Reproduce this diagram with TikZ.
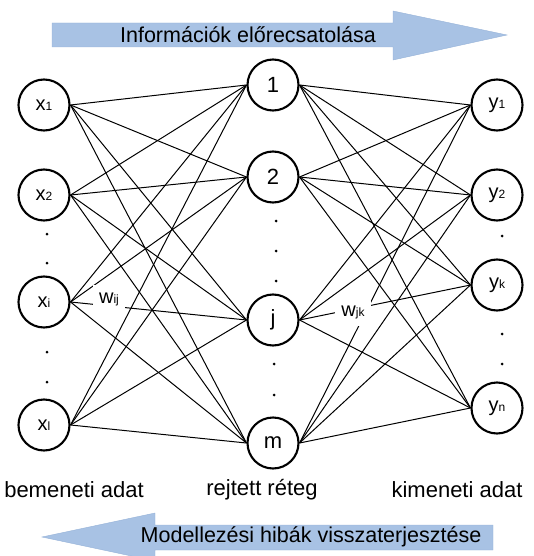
\documentclass[tikz,border=0pt]{standalone}
\usepackage{fontspec}
\setmainfont{Liberation Sans}
\definecolor{arrowblue}{RGB}{168,194,228}
\definecolor{arrowedge}{RGB}{150,178,216}
\newcommand\neurlab[2]{{\fontsize{20}{20}\selectfont #1}{\fontsize{12}{12}\selectfont #2}}
\begin{document}
\begin{tikzpicture}[x=1pt,y=-1pt,
  neuron/.style={circle, draw, line width=2.1pt, minimum size=51pt, inner sep=0pt, fill=white},
  conn/.style={line width=1pt},
  dotn/.style={circle, fill=black, inner sep=0pt, minimum size=3pt},
  wlab/.style={fill=white, inner xsep=6pt, inner ysep=7pt},
  caption/.style={font=\fontsize{21.5}{24}\selectfont, inner sep=0pt},
  layer/.style={font=\fontsize{22}{24}\selectfont, inner sep=0pt},
  bigarrow/.style={fill=arrowblue, draw=arrowedge, line width=0.4pt}]
\useasboundingbox (0,0) rectangle (533,556);
% arrows
\filldraw[bigarrow] (52,23) -- (393,23) -- (393,11) -- (507,35) -- (393,60) -- (393,47) -- (52,47) -- cycle;
\node[caption] (fwd) at (248,35) {Információk előrecsatolása};
\filldraw[bigarrow] (493,525) -- (155,525) -- (155,513) -- (42,537) -- (155,561) -- (155,550) -- (493,550) -- cycle;
\node[caption] (bwd) at (311,537) {Modellezési hibák visszaterjesztése};
% neurons
\node[neuron] (x1) at (44,105) {\neurlab{x}{1}};
\node[neuron] (x2) at (44,195) {\neurlab{x}{2}};
\node[neuron] (xi) at (44,302) {\neurlab{x}{i}};
\node[neuron] (xl) at (44,425) {\neurlab{x}{l}};
\node[neuron, font=\fontsize{22}{22}\selectfont] (h1) at (273,85) {1};
\node[neuron, font=\fontsize{22}{22}\selectfont] (h2) at (273,177) {2};
\node[neuron, font=\fontsize{22}{22}\selectfont] (hj) at (273,320) {j};
\node[neuron, font=\fontsize{22}{22}\selectfont] (hm) at (273,443) {m};
\node[neuron] (y1) at (497,105) {\neurlab{y}{1}};
\node[neuron] (y2) at (497,195) {\neurlab{y}{2}};
\node[neuron] (yk) at (497,285) {\neurlab{y}{k}};
\node[neuron] (yn) at (497,408) {\neurlab{y}{n}};
% connections
\foreach \a in {x1,x2,xi,xl}
  \foreach \b in {h1,h2,hj,hm}
    \draw[conn] (\a.east) -- (\b.west);
\foreach \a in {h1,h2,hj,hm}
  \foreach \b in {y1,y2,yk,yn}
    \draw[conn] (\a.east) -- (\b.west);
% weight labels
\node[wlab] (wij) at (109,299) {\neurlab{w}{ij}};
\node[wlab] (wjk) at (353,312) {\neurlab{w}{jk}};
% dots
\node[dotn] (dl1) at (47,234) {};
\node[dotn] (dl2) at (47,263) {};
\node[dotn] (dl3) at (47,352) {};
\node[dotn] (dl4) at (47,382) {};
\node[dotn] (dh1) at (276,221) {};
\node[dotn] (dh2) at (276,251) {};
\node[dotn] (dh3) at (276,281) {};
\node[dotn] (dh4) at (274,364) {};
\node[dotn] (dh5) at (274,395) {};
\node[dotn] (dr1) at (502,236) {};
\node[dotn] (dr2) at (502,334) {};
\node[dotn] (dr3) at (502,364) {};
% layer captions
\node[layer] (lin) at (74,490) {bemeneti adat};
\node[layer] (lhid) at (262,490) {rejtett réteg};
\node[layer] (lout) at (457,490) {kimeneti adat};
\end{tikzpicture}
\end{document}
